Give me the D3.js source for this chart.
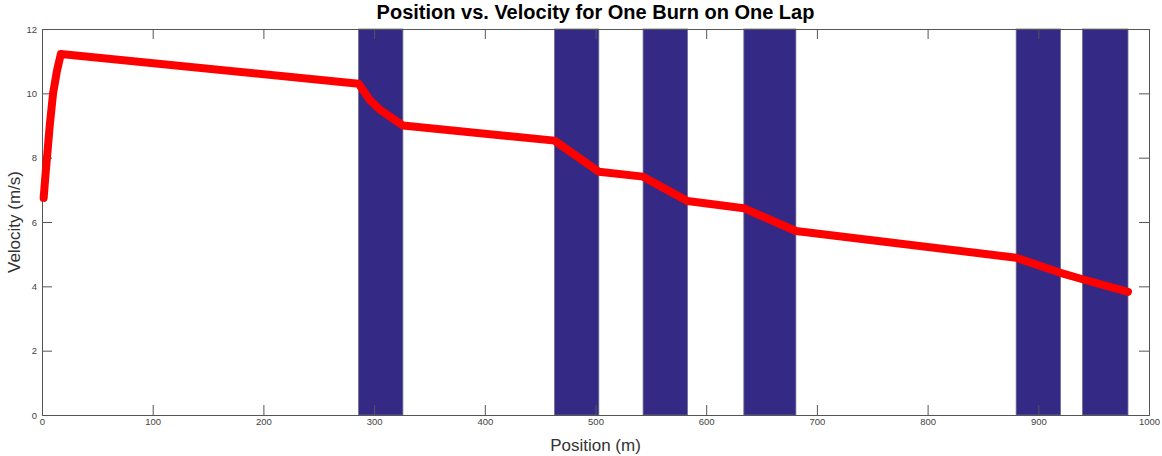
<!DOCTYPE html>
<html>
<head>
<meta charset="utf-8">
<script src="https://cdn.jsdelivr.net/npm/d3@7"></script>
<style>
  body { margin: 0; background: #fff; }
  svg { display: block; font-family: "Liberation Sans", Arial, sans-serif; }
  .axis path, .axis line { stroke: #555; }
  .axis text { fill: #444; font-size: 9.5px; }
</style>
</head>
<body>
<div id="chart"></div>
<script>
// Burn zones (position ranges, m)
const burnStart = [286, 463, 543, 634, 880, 940];
const burnEnd   = [326, 503, 583, 681, 920, 981];

// Velocity trace
const position = [1.5, 3, 4.5, 7, 10, 13.5, 17, 286, 296, 305, 326, 463, 503, 543, 583, 634, 681, 880, 920, 940, 981];
const velocity = [6.75, 7.4, 8.0, 9.0, 10.0, 10.7, 11.22, 10.3, 9.8, 9.5, 9.0, 8.53, 7.56, 7.41, 6.65, 6.43, 5.72, 4.89, 4.42, 4.22, 3.83];

const xTicks = [0, 100, 200, 300, 400, 500, 600, 700, 800, 900, 1000];
const yTicks = [0, 2, 4, 6, 8, 10, 12];

const W = 1162, H = 456;
const margin = { top: 29, right: 13, bottom: 41, left: 42 };
const width = W - margin.left - margin.right;
const height = H - margin.top - margin.bottom;

const svg = d3.select('#chart').append('svg')
    .attr('width', W)
    .attr('height', H);

const g = svg.append('g')
    .attr('transform', `translate(${margin.left},${margin.top})`);

const x = d3.scaleLinear().domain([0, 1000]).range([0, width]);
const y = d3.scaleLinear().domain([0, 12]).range([height, 0]);

// burn bars
g.selectAll('.burn')
    .data(burnStart.map((s, i) => ({ s, e: burnEnd[i] })))
    .enter().append('rect')
    .attr('class', 'burn')
    .attr('x', d => x(d.s))
    .attr('width', d => x(d.e) - x(d.s))
    .attr('y', y(12))
    .attr('height', y(0) - y(12))
    .attr('fill', '#342a86')
    .attr('stroke', '#6a6a8a')
    .attr('stroke-width', 0.8);

// axes (box with inward ticks)
const tickLen = 10;
g.append('g').attr('class', 'axis')
    .attr('transform', `translate(0,${height})`)
    .call(d3.axisBottom(x).tickValues(xTicks).tickSize(-tickLen).tickPadding(3).tickFormat(d3.format('d')));
g.append('g').attr('class', 'axis')
    .call(d3.axisTop(x).tickValues(xTicks).tickSize(-tickLen).tickFormat(''));
g.append('g').attr('class', 'axis')
    .call(d3.axisLeft(y).tickValues(yTicks).tickSize(-tickLen).tickPadding(5).tickFormat(d3.format('d')));
g.append('g').attr('class', 'axis')
    .attr('transform', `translate(${width},0)`)
    .call(d3.axisRight(y).tickValues(yTicks).tickSize(-tickLen).tickFormat(''));

// velocity line
const line = d3.line()
    .x((d, i) => x(position[i]))
    .y(d => y(d));

g.append('path')
    .datum(velocity)
    .attr('d', line)
    .attr('fill', 'none')
    .attr('stroke', '#ff0000')
    .attr('stroke-width', 8)
    .attr('stroke-linejoin', 'round')
    .attr('stroke-linecap', 'round');

// labels
svg.append('text')
    .attr('x', margin.left + width / 2)
    .attr('y', 19)
    .attr('text-anchor', 'middle')
    .attr('font-size', 20)
    .attr('font-weight', 'bold')
    .text('Position vs. Velocity for One Burn on One Lap');

svg.append('text')
    .attr('x', margin.left + width / 2)
    .attr('y', 451)
    .attr('text-anchor', 'middle')
    .attr('font-size', 17)
    .attr('fill', '#333')
    .text('Position (m)');

svg.append('text')
    .attr('transform', `translate(20,${margin.top + height / 2}) rotate(-90)`)
    .attr('text-anchor', 'middle')
    .attr('font-size', 17)
    .attr('fill', '#333')
    .text('Velocity (m/s)');
</script>
</body>
</html>
